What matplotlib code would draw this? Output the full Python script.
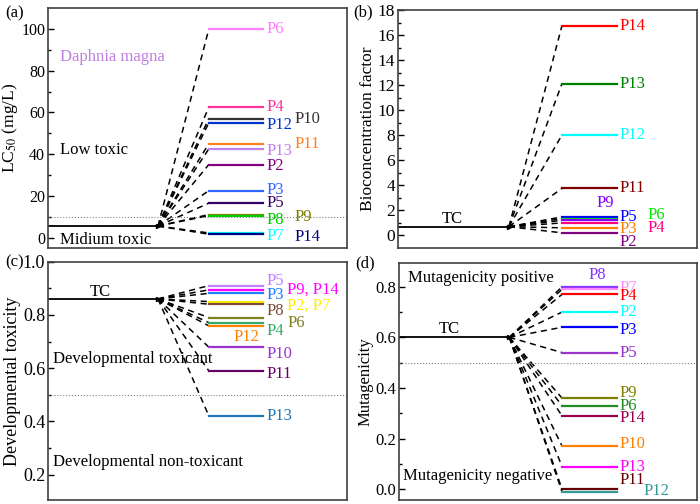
import numpy as np
import matplotlib.pyplot as plt

plt.rcParams['font.family'] = ['Liberation Serif', 'DejaVu Serif']
plt.rcParams['mathtext.fontset'] = 'stix'

# (a) Daphnia magna LC50
a_tc = 5.5
a_names = ['P6', 'P4', 'P10', 'P12', 'P11', 'P13', 'P2', 'P3', 'P5', 'P9', 'P8', 'P7', 'P14']
a_vals = [100, 62.5, 57, 55, 45, 42.5, 35, 22.5, 16.5, 11, 10.5, 2.2, 1.6]
a_cols = ['#ff80ff', '#ff3399', '#333333', '#0033cc', '#ff8020', '#c080f0', '#800080',
          '#3366ff', '#330066', '#808000', '#00cc00', '#00ffff', '#000080']

# (b) bioconcentration factor
b_tc = 0.7
b_names = ['P14', 'P13', 'P12', 'P11', 'P5', 'P6', 'P9', 'P4', 'P3', 'P2']
b_vals = [16.7, 12.1, 8.0, 3.75, 1.48, 1.35, 1.21, 1.0, 0.61, 0.21]
b_cols = ['#ff0000', '#008000', '#00ffff', '#800000', '#0000ff', '#00ee00', '#8000ff',
          '#ff0080', '#ff8000', '#800080']

# (c) developmental toxicity
c_tc = 0.86
c_names = ['P5', 'P9, P14', 'P3', 'P2, P7', 'P8', 'P6', 'P4', 'P12', 'P10', 'P11', 'P13']
c_vals = [0.91, 0.894, 0.881, 0.85, 0.84, 0.79, 0.771, 0.759, 0.679, 0.59, 0.421]
c_cols = ['#c080ff', '#ff00ff', '#1e7fff', '#ffee00', '#7b4b3a', '#808020', '#33aa66',
          '#ff8000', '#9933cc', '#660066', '#1f77b4']

# (d) mutagenicity
d_tc = 0.6
d_names = ['P8', 'P7', 'P4', 'P2', 'P3', 'P5', 'P9', 'P6', 'P14', 'P10', 'P13', 'P11', 'P12']
d_vals = [0.80, 0.79, 0.77, 0.70, 0.64, 0.54, 0.36, 0.33, 0.29, 0.17, 0.09, 0.0, -0.01]
d_cols = ['#8833ff', '#ff88ff', '#ff0000', '#00ffff', '#0000ff', '#9933cc', '#808000',
          '#228b22', '#99004d', '#ff8000', '#ff00ff', '#660000', '#339999']

# label placement (x, y) per panel
a_lab = [(7.3, 100), (7.3, 62.5), (8.25, 57), (7.3, 54), (8.25, 45), (7.3, 41.6), (7.3, 34.5),
         (7.3, 23), (7.3, 16.7), (8.25, 10), (7.3, 8.6), (7.3, 0.7), (8.25, 0.2)]
b_lab = [(7.4, 16.7), (7.4, 12.1), (7.4, 8.0), (7.4, 3.75), (7.4, 1.5), (8.35, 1.6), (6.65, 2.6),
         (8.35, 0.6), (7.4, 0.5), (7.4, -0.55)]
c_lab = [(7.3, 0.927), (8.0, 0.895), (7.3, 0.875), (8.0, 0.833), (7.3, 0.815), (8.0, 0.769),
         (7.3, 0.74), (6.2, 0.717), (7.3, 0.654), (7.3, 0.579), (7.3, 0.42)]
d_lab = [(6.35, 0.845), (7.4, 0.795), (7.4, 0.765), (7.4, 0.70), (7.4, 0.63), (7.4, 0.54),
         (7.4, 0.38), (7.4, 0.33), (7.4, 0.28), (7.4, 0.18), (7.4, 0.09), (7.4, 0.037), (8.2, -0.005)]


def panel(ax, tc, names, vals, cols, labs, x1, x2, x3, fs):
    ax.plot([0, x1], [tc, tc], color='k', lw=1.3)
    ax.plot([x1], [tc], marker='>', color='k', ms=3)
    for n, v, c, (lx, ly) in zip(names, vals, cols, labs):
        ax.plot([x1, x2], [tc, v], color='k', lw=1.1, ls=(0, (4, 3)))
        ax.plot([x2, x3], [v, v], color=c, lw=1.6)
        ax.text(lx, ly, n, color=c, fontsize=12, va='center', ha='left')
    ax.set_xlim(0, 10)
    ax.set_xticks([])
    ax.tick_params(axis='y', direction='in', length=4, width=1, labelsize=fs, pad=2)
    ax.tick_params(axis='y', which='minor', direction='in', length=2.5, width=1)
    for s in ax.spines.values():
        s.set_color('#404040')
        s.set_linewidth(1.2)


fig = plt.figure(figsize=(7, 5.04), dpi=100)
axa = fig.add_axes([0.0686, 0.508, 0.427, 0.476])
axb = fig.add_axes([0.5686, 0.508, 0.427, 0.472])
axc = fig.add_axes([0.0686, 0.0079, 0.427, 0.473])
axd = fig.add_axes([0.570, 0.0079, 0.426, 0.471])

# (a)
panel(axa, a_tc, a_names, a_vals, a_cols, a_lab, 3.68, 5.38, 7.19, 11.5)
axa.axhline(10, color='gray', ls=':', lw=0.8)
axa.set_ylim(-5, 110)
axa.set_yticks(np.arange(0, 101, 20))
axa.set_yticks(np.arange(10, 101, 20), minor=True)
axa.set_ylabel('LC$_{50}$ (mg/L)', fontsize=12.5, labelpad=1)
axa.text(0.4, 86.6, 'Daphnia magna', color='#c080e0', fontsize=12, va='center')
axa.text(0.4, 42, 'Low toxic', fontsize=12, va='center')
axa.text(0.4, -1, 'Midium toxic', fontsize=12, va='center')

# (b)
panel(axb, b_tc, b_names, b_vals, b_cols, b_lab, 3.71, 5.48, 7.32, 12.5)
axb.set_ylim(-1, 18)
axb.set_yticks(np.arange(0, 19, 2))
axb.set_yticks(np.arange(1, 18, 2), minor=True)
axb.set_ylabel('Bioconcentration factor', fontsize=12.5, labelpad=1)
axb.text(1.8, b_tc + 0.6, 'TC', fontsize=12, ha='center', va='center')

# (c)
panel(axc, c_tc, c_names, c_vals, c_cols, c_lab, 3.68, 5.38, 7.19, 13)
axc.axhline(0.5, color='gray', ls=':', lw=0.8)
axc.set_ylim(0.105, 1.0)
axc.set_yticks([0.2, 0.4, 0.6, 0.8, 1.0])
axc.set_yticks([0.3, 0.5, 0.7, 0.9], minor=True)
axc.set_ylabel('Developmental toxicity', fontsize=13, labelpad=1)
axc.text(1.74, 0.885, 'TC', fontsize=12, ha='center', va='center')
axc.text(0.15, 0.635, 'Developmental toxicant', fontsize=12, va='center')
axc.text(0.15, 0.248, 'Developmental non-toxicant', fontsize=12, va='center')

# (d)
panel(axd, d_tc, d_names, d_vals, d_cols, d_lab, 3.7, 5.47, 7.32, 12)
axd.axhline(0.5, color='gray', ls=':', lw=0.8)
axd.set_ylim(-0.042, 0.895)
axd.set_yticks([0.0, 0.2, 0.4, 0.6, 0.8])
axd.set_yticks([0.1, 0.3, 0.5, 0.7], minor=True)
axd.set_ylabel('Mutagenicity', fontsize=12, labelpad=1)
axd.text(1.7, 0.635, 'TC', fontsize=12, ha='center', va='center')
axd.text(0.3, 0.833, 'Mutagenicity positive', fontsize=12, va='center')
axd.text(0.15, 0.054, 'Mutagenicity negative', fontsize=12, va='center')

fig.text(5 / 700, 1 - 13 / 504, '(a)', fontsize=12, va='center')
fig.text(353 / 700, 1 - 12 / 504, '(b)', fontsize=12, va='center')
fig.text(5 / 700, 1 - 262 / 504, '(c)', fontsize=12, va='center')
fig.text(355 / 700, 1 - 263 / 504, '(d)', fontsize=12, va='center')

fig.savefig('out.png', dpi=100)
